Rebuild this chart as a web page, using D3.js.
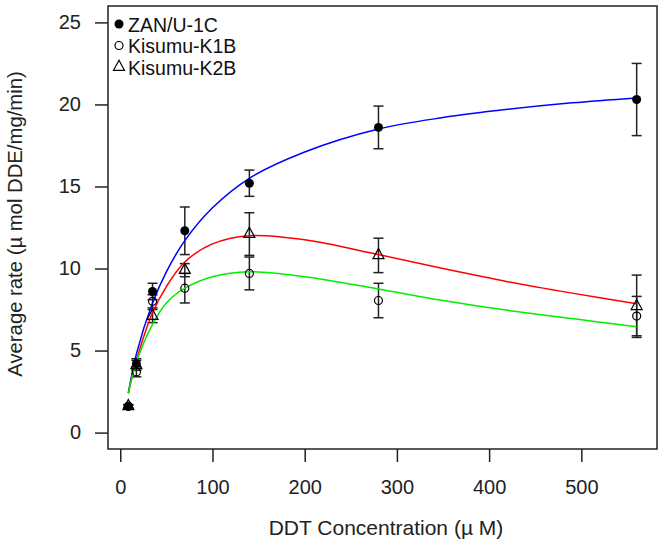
<!DOCTYPE html>
<html><head><meta charset="utf-8">
<script src="https://cdn.jsdelivr.net/npm/d3@7"></script>
<style>body{margin:0;background:#fff}svg{display:block;font-family:"Liberation Sans",Arial,sans-serif}</style>
</head><body><svg id="c" width="664" height="552"></svg>
<script>
const conc = [8.75, 17.5, 35, 70, 140, 280, 560];
const zan = [1.6, 4.2, 8.6, 12.3, 15.2, 18.6, 20.3];
const zanErr = [0.1, 0.3, 0.5, 1.45, 0.8, 1.3, 2.2];
const k1b = [1.6, 3.7, 8.0, 8.8, 9.7, 8.05, 7.1];
const k1bErr = [0.1, 0.3, 0.4, 0.9, 1.0, 1.05, 1.2];
const k2b = [1.6, 4.1, 7.1, 9.9, 12.1, 10.8, 7.7];
const k2bErr = [0.1, 0.3, 0.4, 0.4, 1.3, 1.05, 1.9];
const curveX = [8.75, 17.5, 35, 50, 70, 100, 140, 200, 280, 350, 420, 490, 560];
const zanFit = [2.4, 4.8, 7.9, 9.8, 11.7, 13.7, 15.5, 17.1, 18.5, 19.2, 19.7, 20.1, 20.4];
const k1bFit = [2.4, 4.3, 6.6, 7.9, 8.8, 9.5, 9.8, 9.5, 8.75, 8.05, 7.45, 6.95, 6.45];
const k2bFit = [2.4, 4.4, 7.3, 8.9, 10.4, 11.5, 12.0, 11.75, 10.85, 10.0, 9.2, 8.5, 7.85];
const xTicks = [0, 100, 200, 300, 400, 500];
const yTicks = [0, 5, 10, 15, 20, 25];
const seriesNames = ["ZAN/U-1C", "Kisumu-K1B", "Kisumu-K2B"];

const svg = d3.select("#c");
const L = 108, R = 657, T = 6, B = 449;
const x = d3.scaleLinear().domain([-13.3, 582.05]).range([L, R]);
const y = d3.scaleLinear().domain([-1, 26]).range([B, T]);

svg.append("rect").attr("x", L).attr("y", T).attr("width", R - L).attr("height", B - T)
  .attr("fill", "none").attr("stroke", "#222").attr("stroke-width", 1.5);

const xa = svg.append("g").attr("transform", `translate(0,${B})`)
  .call(d3.axisBottom(x).tickValues(xTicks).tickSize(13).tickPadding(18).tickFormat(d3.format("d")));
const ya = svg.append("g").attr("transform", `translate(${L},0)`)
  .call(d3.axisLeft(y).tickValues(yTicks).tickSize(13).tickPadding(14).tickFormat(d3.format("d")));
[xa, ya].forEach(g => {
  g.select(".domain").remove();
  g.selectAll("line").attr("stroke", "#222").attr("stroke-width", 1.5);
  g.selectAll("text").attr("font-size", 20).attr("fill", "#222").attr("font-family", "Liberation Sans, Arial, sans-serif");
});

svg.append("text").attr("x", 386).attr("y", 535).attr("text-anchor", "middle")
  .attr("font-size", 21).attr("fill", "#222").text("DDT Concentration (\u00b5 M)");
svg.append("text").attr("transform", "translate(22,224) rotate(-90)").attr("text-anchor", "middle")
  .attr("font-size", 20.3).attr("fill", "#222").text("Average rate (\u00b5 mol DDE/mg/min)");

const line = d3.line().x(d => x(d[0])).y(d => y(d[1])).curve(d3.curveCatmullRom);
const fits = [[zanFit, "#0000ff"], [k2bFit, "#ff0000"], [k1bFit, "#00ee00"]];

const sets = [[zan, zanErr, "filled"], [k1b, k1bErr, "open"], [k2b, k2bErr, "tri"]];
sets.forEach(([vals, errs]) => {
  const g = svg.append("g").attr("stroke", "#222").attr("stroke-width", 1.5);
  conc.forEach((c, i) => {
    const cx = x(c), y1 = y(vals[i] + errs[i]), y2 = y(vals[i] - errs[i]);
    g.append("line").attr("x1", cx).attr("x2", cx).attr("y1", y1).attr("y2", y2);
    g.append("line").attr("x1", cx - 5).attr("x2", cx + 5).attr("y1", y1).attr("y2", y1);
    g.append("line").attr("x1", cx - 5).attr("x2", cx + 5).attr("y1", y2).attr("y2", y2);
  });
});

fits.forEach(([vals, col]) => {
  svg.append("path").datum(curveX.map((c, i) => [c, vals[i]]))
    .attr("d", line).attr("fill", "none").attr("stroke", col).attr("stroke-width", 1.5);
});

const triPath = (cx, cy, s) => `M${cx},${cy - s * 0.62}L${cx + s / 2},${cy + s * 0.3}L${cx - s / 2},${cy + s * 0.3}Z`;
function marker(g, type, cx, cy) {
  if (type === "filled") g.append("circle").attr("cx", cx).attr("cy", cy).attr("r", 4.5).attr("fill", "#000");
  else if (type === "open") g.append("circle").attr("cx", cx).attr("cy", cy).attr("r", 4).attr("fill", "none").attr("stroke", "#000").attr("stroke-width", 1.2);
  else g.append("path").attr("d", triPath(cx, cy, 11)).attr("fill", "none").attr("stroke", "#000").attr("stroke-width", 1.2);
}
sets.forEach(([vals, errs, type]) => {
  const g = svg.append("g");
  conc.forEach((c, i) => marker(g, type, x(c), y(vals[i])));
});

const lg = svg.append("g");
["filled", "open", "tri"].forEach((t, i) => {
  const cy = 24 + i * 21.5;
  marker(lg, t, 119, cy);
  lg.append("text").attr("x", 128).attr("y", cy + 7.5).attr("font-size", 19.5).attr("fill", "#111").text(seriesNames[i]);
});
</script></body></html>
